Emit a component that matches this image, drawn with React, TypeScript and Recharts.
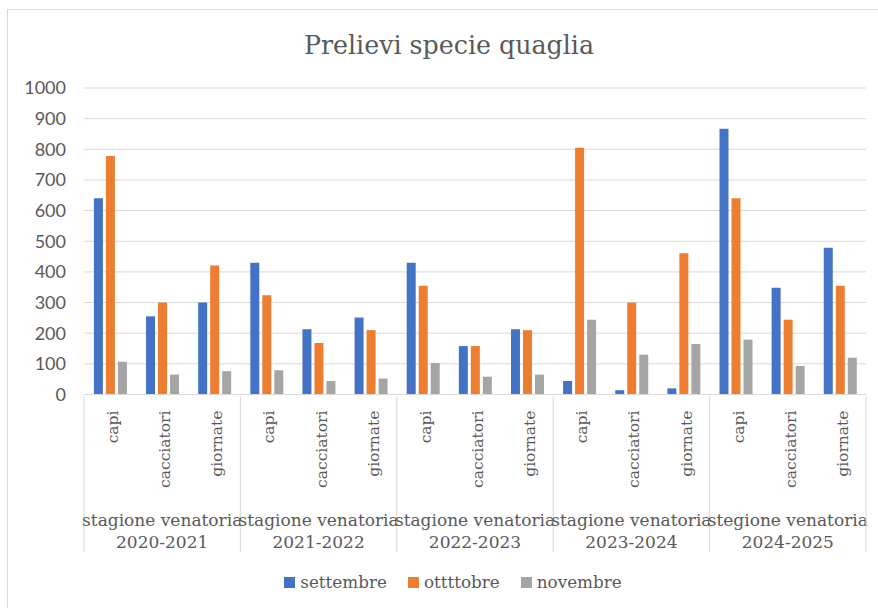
import { Bar, BarChart, CartesianGrid, Legend, XAxis, YAxis } from "recharts";

const seasons = ["2020-2021", "2021-2022", "2022-2023", "2023-2024", "2024-2025"];
const seasonPrefixes = [
  "stagione venatoria",
  "stagione venatoria",
  "stagione venatoria",
  "stagione venatoria",
  "stegione venatoria",
];
const categories = ["capi", "cacciatori", "giornate"];

// one value per season x category, in season order
const settembre = [640, 255, 300, 430, 213, 251, 430, 158, 213, 44, 14, 20, 867, 348, 479];
const ottobre = [778, 300, 421, 324, 168, 210, 355, 158, 210, 805, 300, 461, 640, 244, 355];
const novembre = [107, 65, 76, 79, 44, 52, 103, 58, 65, 244, 130, 165, 179, 93, 120];

const yTicks = [0, 100, 200, 300, 400, 500, 600, 700, 800, 900, 1000];

const series = [
  { key: "settembre", color: "#4472C4" },
  { key: "ottttobre", color: "#ED7D31" },
  { key: "novembre", color: "#A5A5A5" },
];

const data = seasons.flatMap((season, i) =>
  categories.map((cat, j) => {
    const k = i * categories.length + j;
    return {
      key: `${season}-${cat}`,
      cat,
      season,
      prefix: seasonPrefixes[i],
      settembre: settembre[k],
      ottttobre: ottobre[k],
      novembre: novembre[k],
    };
  })
);

const SERIF = "'DejaVu Serif', serif";
const TEXT = "#595959";
const GRID = "#d9d9d9";

function CategoryTick(props: any) {
  const { x, y, payload, index } = props;
  const half = payload?.offset ?? 26;
  const row = data[index];
  if (!row) return null;
  const pos = index % categories.length;
  const isLast = index === data.length - 1;

  return (
    <g>
      <text
        x={x + 3}
        y={y + 14}
        transform={`rotate(-90 ${x + 3} ${y + 14})`}
        textAnchor="end"
        dominantBaseline="central"
        fontFamily={SERIF}
        fontSize={15.5}
        fill={TEXT}
      >
        {row.cat}
      </text>
      {pos === 0 && <line x1={x - half} y1={y} x2={x - half} y2={y + 156} stroke={GRID} />}
      {isLast && <line x1={x + half} y1={y} x2={x + half} y2={y + 156} stroke={GRID} />}
      {pos === 1 && (
        <>
          <text x={x} y={y + 129} textAnchor="middle" fontFamily={SERIF} fontSize={17} fill={TEXT}>
            {row.prefix}
          </text>
          <text x={x} y={y + 151} textAnchor="middle" fontFamily={SERIF} fontSize={17} fill={TEXT}>
            {row.season}
          </text>
        </>
      )}
    </g>
  );
}

function LegendContent() {
  return (
    <div
      style={{
        display: "flex",
        justifyContent: "center",
        gap: 21,
        fontFamily: SERIF,
        fontSize: 16.8,
        color: TEXT,
        lineHeight: "30px",
      }}
    >
      {series.map((s) => (
        <span key={s.key} style={{ display: "inline-flex", alignItems: "center" }}>
          <span
            style={{ display: "inline-block", width: 11, height: 11, background: s.color, marginRight: 5 }}
          />
          {s.key}
        </span>
      ))}
    </div>
  );
}

export default function App() {
  return (
    <div
      style={{
        position: "fixed",
        left: 0,
        top: 0,
        width: 878,
        height: 608,
        overflow: "hidden",
        background: "#fff",
      }}
    >
      <div
        style={{
          position: "absolute",
          left: 7,
          top: 9,
          width: 884,
          height: 620,
          border: `1px solid ${GRID}`,
        }}
      />
      <div
        style={{
          position: "absolute",
          left: 7,
          top: 31,
          width: 884,
          textAlign: "center",
          fontFamily: SERIF,
          fontSize: 25.3,
          color: TEXT,
        }}
      >
        Prelievi specie quaglia
      </div>
      <div style={{ position: "absolute", left: 0, top: 0 }}>
        <BarChart
          width={878}
          height={608}
          data={data}
          margin={{ top: 88, right: 12, left: 0, bottom: 0 }}
          barCategoryGap="19%"
          barGap={3}
        >
          <CartesianGrid vertical={false} stroke={GRID} />
          <XAxis
            dataKey="key"
            interval={0}
            tickSize={0}
            tickLine={false}
            axisLine={{ stroke: GRID }}
            height={183.5}
            tick={<CategoryTick />}
          />
          <YAxis
            domain={[0, 1000]}
            ticks={yTicks}
            width={84}
            axisLine={false}
            tickLine={false}
            tickSize={0}
            tickMargin={18}
            tick={{ fontFamily: "Lato, sans-serif", fontSize: 18, fill: TEXT }}
          />
          <Legend
            content={<LegendContent />}
            wrapperStyle={{ height: 30, bottom: 11, left: 0, width: 906 }}
          />
          {series.map((s) => (
            <Bar key={s.key} dataKey={s.key} name={s.key} fill={s.color} isAnimationActive={false} />
          ))}
        </BarChart>
      </div>
    </div>
  );
}
